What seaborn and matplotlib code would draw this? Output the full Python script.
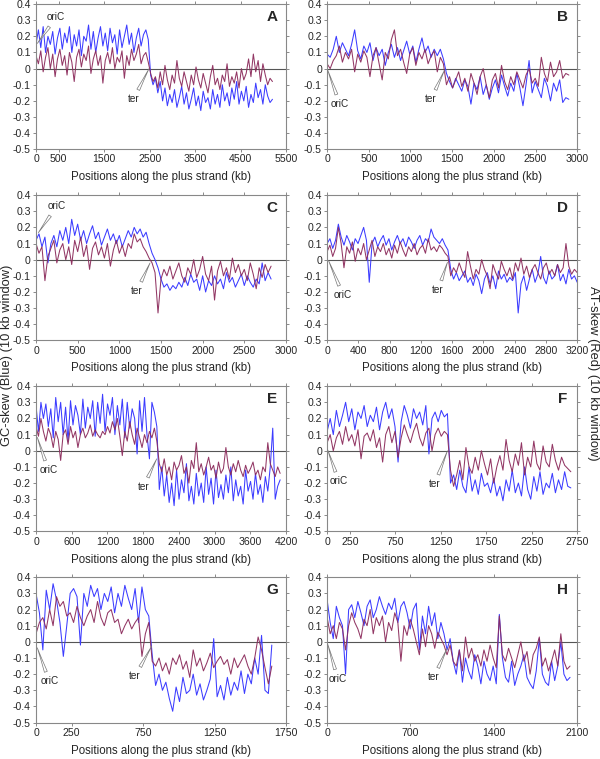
import matplotlib
matplotlib.use("Agg")
import matplotlib.pyplot as plt
import seaborn as sns
import numpy as np

sns.set_style("ticks")
plt.rcParams["font.family"] = ["Liberation Sans", "DejaVu Sans"]

BLUE = "#3c3cff"
RED = "#8c2c5c"

# genome lengths (kb) covered by the windows
LENGTHS = {"A": 5200, "B": 2900, "C": 2820, "D": 3200,
           "E": 4100, "F": 2680, "G": 1650, "H": 2040}
XMAX = {"A": 5500, "B": 3000, "C": 3000, "D": 3200,
        "E": 4200, "F": 2750, "G": 1750, "H": 2100}
XTICKS = {
    "A": [0, 500, 1500, 2500, 3500, 4500, 5500],
    "B": [0, 500, 1000, 1500, 2000, 2500, 3000],
    "C": [0, 500, 1000, 1500, 2000, 2500, 3000],
    "D": [0, 400, 800, 1200, 1600, 2000, 2400, 2800, 3200],
    "E": [0, 600, 1200, 1800, 2400, 3000, 3600, 4200],
    "F": [0, 250, 750, 1250, 1750, 2250, 2750],
    "G": [0, 250, 750, 1250, 1750],
    "H": [0, 700, 1400, 2100],
}
YTICKS = [-0.5, -0.4, -0.3, -0.2, -0.1, 0, 0.1, 0.2, 0.3, 0.4]
YTICKLABELS = ["-0.5", "-0.4", "-0.3", "-0.2", "-0.1", "0", "0.1", "0.2", "0.3", "0.4"]

# GC-skew (blue) and AT-skew (red), 10 kb windows
a_gc = [0.15, 0.24, 0.13, 0.26, 0.1, 0.2, 0.15, 0.23, 0.09, 0.19, 0.25, 0.12, 0.22, 0.16, 0.26,
        0.1, 0.21, 0.14, 0.24, 0.08, 0.2, 0.17, 0.27, 0.12, 0.23, 0.1, 0.19, 0.26, 0.14, 0.22,
        0.11, 0.25, 0.16, 0.21, 0.09, 0.24, 0.13, 0.2, 0.27, 0.15, 0.22, 0.1, 0.19, 0.25, 0.14,
        0.21, 0.24, 0.18,
        -0.04, -0.1, -0.06, -0.15, -0.08, -0.2, -0.12, -0.23, -0.16, -0.21, -0.13, -0.24, -0.18,
        -0.11, -0.22, -0.15, -0.25, -0.19, -0.12, -0.23, -0.17, -0.26, -0.14, -0.21, -0.18, -0.25,
        -0.13, -0.22, -0.16, -0.24, -0.1, -0.2, -0.15, -0.23, -0.12, -0.19, -0.08, -0.22, -0.14,
        -0.2, -0.11, -0.24, -0.16, -0.21, -0.09, -0.18, -0.13, -0.22, -0.1, -0.17, -0.21, -0.19]
a_at = [0.08, 0.03, 0.11, -0.02, 0.07, 0.13, 0.0, 0.09, -0.05, 0.06, 0.12, 0.02, 0.08, -0.04, 0.1,
        0.04, -0.08, 0.07, 0.12, 0.01, 0.09, 0.05, 0.14, -0.03, 0.06, 0.11, 0.02, 0.08, -0.09, 0.05,
        0.1, 0.03, 0.13, 0.0, 0.07, 0.04, 0.11, -0.06, 0.08, 0.02, 0.12, 0.05, 0.09, 0.15, 0.03,
        0.08, 0.1, 0.04,
        -0.03, -0.08, -0.05, -0.12, -0.02, -0.1, 0.02, -0.07, -0.13, -0.04, -0.09, 0.05, -0.06,
        -0.11, -0.02, -0.08, -0.14, -0.04, -0.1, 0.01, -0.07, -0.12, -0.03, -0.09, -0.15, -0.05,
        0.02, -0.1, -0.06, -0.13, -0.04, -0.08, 0.03, -0.11, -0.05, -0.09, -0.02, -0.12, 0.0,
        -0.07, -0.03, 0.06, -0.05, 0.09, -0.02, 0.05, -0.08, 0.03, -0.04, -0.1, -0.06, -0.08]
b_gc = [0.09, 0.07, 0.12, 0.2, 0.1, 0.16, 0.12, 0.08, 0.15, 0.24, 0.11, 0.06, 0.14, 0.1, 0.16,
        0.05, 0.13, 0.08, 0.12, 0.02, 0.1, 0.15, 0.07, 0.13, 0.05, 0.11, 0.17, 0.09, 0.14, 0.04,
        0.12, 0.19, 0.1, 0.14, 0.07, 0.12, 0.08, 0.12, 0.06,
        -0.03, -0.08, -0.12, -0.06, -0.1, -0.14, -0.07, -0.11, -0.22, -0.09, -0.13, -0.05, -0.16,
        -0.1, -0.19, -0.12, -0.07, -0.15, -0.04, -0.11, -0.17, -0.09, -0.14, -0.03, -0.12, -0.23,
        -0.1, 0.05, -0.15, -0.08, -0.13, -0.18, -0.06, -0.11, -0.2, -0.09, -0.14, -0.07, -0.21,
        -0.18, -0.19]
b_at = [0.03, 0.0, 0.05, 0.08, 0.14, 0.04, 0.1, 0.06, 0.12, -0.02, 0.09, 0.04, 0.11, 0.07, -0.05,
        0.08, 0.13, 0.03, -0.07, 0.1, 0.06, 0.18, 0.24, 0.08, 0.12, 0.04, -0.03, 0.09, 0.13, 0.02,
        0.1, 0.06, 0.12, 0.03, 0.08, 0.11, -0.02, 0.07, 0.03,
        -0.1, -0.05, -0.12, -0.07, -0.02, -0.11, -0.06, -0.14, -0.03, -0.09, -0.16, -0.05, 0.0,
        -0.1, -0.18, -0.07, -0.03, -0.12, 0.02, -0.08, -0.13, -0.05, -0.1, -0.02, -0.07, -0.12,
        -0.04, 0.0, -0.09, -0.06, -0.11, 0.07, -0.03, -0.08, 0.04, -0.05, -0.02, 0.05, -0.06,
        -0.03, -0.04]
c_gc = [0.12, 0.16, 0.08, 0.14, -0.02, 0.1, 0.15, 0.08, 0.18, 0.12, 0.2, 0.1, 0.25, 0.15, 0.22,
        0.12, 0.18, 0.1, 0.16, 0.21, 0.13, 0.17, 0.09, 0.14, 0.19, 0.12, 0.16, 0.1, 0.15, 0.08,
        0.13, 0.18, 0.14, 0.2, 0.16, 0.19, 0.14, 0.17, 0.1, 0.04,
        0.0, -0.05, -0.12, -0.17, -0.15, -0.19, -0.16, -0.18, -0.14, -0.17, -0.11, -0.16, -0.09,
        -0.14, -0.12, -0.19, -0.1, -0.2, -0.13, -0.16, -0.1, -0.15, -0.12, -0.18, -0.08, -0.14,
        -0.11, -0.17, -0.13, -0.09, -0.16, -0.1, -0.14, -0.17, -0.12, -0.15, -0.02, -0.13, -0.08,
        -0.12]
c_at = [0.1, 0.04, 0.08, -0.13, 0.02, 0.07, 0.12, -0.02, 0.06, 0.1, 0.0, 0.08, -0.03, 0.12, 0.05,
        0.14, 0.02, 0.09, -0.06, 0.07, 0.11, 0.03, 0.08, 0.01, 0.1, -0.04, 0.06, 0.12, 0.04, 0.09,
        0.02, 0.1, 0.07, 0.16, 0.11, 0.13, 0.08, 0.05, 0.01, -0.02,
        -0.08, -0.33, -0.12, -0.06, -0.1, -0.04, -0.12, -0.07, -0.02, -0.1, -0.14, -0.05, -0.09,
        0.0, -0.11, -0.06, 0.02, -0.09, -0.13, -0.04, -0.25, -0.07, -0.01, -0.1, -0.05, -0.12,
        0.01, -0.08, -0.03, -0.1, -0.06, -0.13, -0.02, -0.09, -0.18, -0.05, -0.11, -0.03, -0.08,
        -0.04]
d_gc = [0.1, 0.13, 0.07, 0.12, 0.22, 0.14, 0.09, 0.15, 0.11, 0.06, 0.13, 0.1, 0.15, 0.2, 0.12,
        -0.14, 0.1, 0.14, 0.08, 0.12, 0.15, 0.09, 0.13, 0.06, 0.11, 0.15, 0.1, 0.13, 0.08, 0.14,
        0.11, 0.07, 0.12, 0.15, 0.09, 0.13, 0.11, 0.19, 0.14, 0.12, 0.1, 0.13, 0.09, 0.06,
        -0.06, -0.12, -0.08, -0.13, -0.1, -0.07, -0.14, -0.11, -0.16, -0.09, -0.13, -0.21, -0.12,
        -0.08, -0.15, -0.1, -0.18, -0.07, -0.12, -0.09, -0.14, -0.11, -0.13, -0.08, -0.33, -0.15,
        -0.1, -0.19, -0.12, -0.06, -0.14, -0.09, 0.02, -0.11, -0.15, -0.07, -0.12, -0.1, -0.03,
        -0.13, -0.09, -0.15, -0.06, -0.12, -0.1, -0.14]
d_at = [0.05, 0.09, 0.02, 0.07, 0.2, 0.1, -0.05, 0.08, 0.04, 0.11, -0.01, 0.07, 0.03, 0.1, 0.0,
        0.06, 0.12, 0.02, 0.08, 0.05, 0.1, 0.03, 0.07, 0.01, 0.09, 0.04, 0.11, 0.06, 0.02, 0.08,
        0.05, 0.1, 0.03, 0.07, 0.09, 0.04, 0.13, 0.06, 0.08, 0.05, 0.09, 0.07, 0.04, 0.02,
        -0.1, -0.05, -0.08, -0.02, -0.07, -0.11, 0.05, -0.04, -0.12, -0.06, -0.09, 0.0, -0.06,
        -0.1, -0.18, -0.03, -0.08, -0.12, -0.01, -0.06, -0.1, -0.05, -0.12, -0.02, -0.07, 0.01,
        -0.09, -0.04, -0.11, -0.06, -0.03, -0.08, -0.12, -0.05, -0.02, -0.09, -0.06, -0.1, -0.03,
        -0.08, -0.05, 0.1, -0.04, -0.09, -0.06, -0.08]
e_gc = [0.28, 0.12, 0.3, 0.2, 0.29, 0.15, 0.26, 0.08, 0.33, 0.18, 0.3, 0.1, 0.27, 0.06, 0.31,
        0.16, 0.28, 0.22, 0.1, 0.32, 0.14, 0.27, 0.2, 0.31, 0.09, 0.3, 0.17, 0.35, 0.12, 0.29,
        0.22, 0.33, 0.1, 0.28, 0.16, 0.32, 0.08, 0.3, 0.14, 0.26, 0.2, -0.02, 0.31, 0.12, 0.33,
        0.1, -0.05, 0.3, 0.24, 0.15,
        -0.24, -0.1, -0.28, -0.15, -0.32, -0.2, -0.34, -0.12, -0.3, -0.18, -0.26, -0.08, -0.31,
        -0.22, -0.33, -0.14, -0.28, -0.2, -0.32, -0.1, -0.27, -0.17, -0.33, -0.12, -0.29, -0.21,
        -0.3, -0.15, -0.26, -0.1, -0.31, -0.18, -0.28, -0.22, -0.33, -0.12, -0.25, -0.19, -0.3,
        -0.14, -0.27, -0.21, -0.32, -0.16, -0.25, -0.1, 0.14, -0.3, -0.22, -0.18]
e_at = [0.15, 0.09, 0.2, 0.12, 0.06, 0.14, 0.1, 0.02, 0.12, 0.07, -0.06, 0.1, 0.13, 0.04, 0.15,
        0.08, 0.12, 0.02, 0.1, 0.14, 0.08, 0.11, 0.16, 0.09, 0.13, 0.1, 0.08, 0.12, 0.1, 0.15,
        0.11, 0.18, 0.13, 0.2, 0.09, -0.03, 0.12, 0.06, 0.18, 0.1, 0.04, 0.14, 0.08, 0.02, 0.1,
        0.05, 0.12, 0.08, 0.14, 0.06,
        -0.08, -0.13, -0.05, -0.15, -0.1, -0.18, -0.07, -0.12, -0.09, -0.03, -0.14, -0.1, -0.2,
        -0.06, -0.11, 0.05, -0.13, -0.08, -0.15, -0.1, -0.04, -0.12, -0.09, -0.17, -0.07, -0.14,
        -0.11, 0.02, -0.1, -0.15, -0.08, -0.13, -0.06, -0.12, -0.16, -0.09, -0.14, -0.11, -0.07,
        -0.15, -0.12, -0.18, -0.1, -0.13, 0.05, -0.08, -0.12, -0.16, -0.1, -0.14]
f_gc = [0.12, 0.2, 0.1, 0.25, 0.15, 0.22, 0.3, 0.18, 0.26, 0.13, 0.24, 0.2, 0.28, 0.15, 0.22,
        0.18, 0.27, 0.13, 0.24, 0.3, 0.2, 0.26, 0.15, -0.07, 0.18, 0.28, 0.22, 0.14, 0.26, 0.2,
        0.24, 0.16, 0.28, -0.02, 0.2, 0.24, 0.18, 0.25, 0.21, 0.23,
        -0.2, -0.15, -0.24, -0.12, -0.22, -0.26, -0.1, -0.25, -0.18, -0.27, -0.14, -0.22, -0.2,
        -0.26, -0.17, -0.28, -0.22, -0.31, -0.18, -0.25, -0.12, -0.26, -0.2, -0.28, -0.1, -0.24,
        -0.3, -0.16, -0.25, -0.13, -0.27, -0.2, -0.23, -0.14, -0.26, -0.18, -0.24, -0.13, -0.22,
        -0.23]
f_at = [0.05, 0.1, 0.0, 0.08, 0.12, 0.04, 0.15, 0.06, 0.1, 0.03, 0.13, -0.05, 0.09, 0.11, 0.06,
        0.13, 0.02, 0.08, -0.07, 0.1, 0.15, 0.05, 0.12, -0.04, 0.08, 0.16, 0.1, 0.05, 0.12, 0.17,
        0.08, 0.03, 0.11, 0.14, 0.0, 0.1, 0.14, 0.09, 0.12, 0.1,
        -0.12, -0.22, -0.15, -0.06, -0.18, 0.02, -0.1, -0.14, -0.04, -0.12, 0.0, -0.08, -0.15,
        -0.05, -0.2, -0.1, -0.03, -0.12, 0.07, -0.06, -0.13, -0.02, -0.09, 0.05, -0.15, -0.04,
        -0.1, 0.06, -0.08, -0.12, 0.03, -0.07, -0.1, 0.04, -0.06, -0.12, -0.04, -0.09, -0.11,
        -0.13]
g_gc = [0.3, 0.18, -0.05, 0.32, 0.2, 0.36, 0.26, 0.12, -0.09, 0.1, 0.3, 0.33, 0.28, -0.02, 0.3,
        0.22, 0.35, 0.28, 0.33, 0.2, 0.3, 0.25, 0.34, 0.18, 0.3, 0.22, 0.35, 0.27, 0.2, 0.33,
        0.12, 0.34, 0.2, 0.16,
        -0.08, -0.27, -0.2, -0.3, -0.25, -0.35, -0.43, -0.28, -0.37, -0.22, -0.32, -0.3, -0.2,
        -0.33, -0.26, -0.36, -0.3, -0.23, 0.02, -0.34, -0.27, -0.36, -0.22, -0.33, -0.25, -0.3,
        -0.18, -0.32, -0.2, -0.26, -0.1, -0.2, 0.04, -0.3, -0.32, -0.02]
g_at = [0.05, 0.12, 0.15, 0.08, 0.2, 0.1, 0.28, 0.22, 0.25, 0.16, 0.18, 0.12, 0.22, 0.15, 0.1,
        0.16, 0.2, 0.12, 0.25, 0.15, 0.1, 0.18, 0.2, 0.12, 0.14, 0.05, 0.1, 0.14, 0.08, 0.12,
        0.15, -0.09, 0.05, 0.12,
        -0.12, -0.15, -0.1, -0.18, -0.13, -0.2, -0.1, -0.14, -0.08, -0.17, -0.12, -0.22, -0.05,
        -0.15, -0.1, -0.18, -0.13, -0.07, -0.16, -0.12, -0.09, -0.14, -0.11, -0.2, -0.1, -0.16,
        -0.12, -0.08, -0.15, -0.2, -0.1, 0.03, -0.05, -0.16, -0.26, -0.15]
h_gc = [0.26, 0.12, 0.02, 0.22, 0.15, 0.1, -0.2, 0.2, 0.23, 0.15, 0.25, 0.18, 0.1, 0.22, 0.26,
        0.15, 0.2, 0.28, 0.22, 0.17, 0.24, 0.2, 0.27, 0.12, 0.22, 0.25, 0.18, 0.08, 0.2, 0.24,
        -0.05, 0.16, 0.05, 0.22, 0.1, 0.18, 0.02, 0.12, 0.05,
        -0.05, 0.02, -0.12, -0.2, -0.05, -0.25, -0.1, -0.18, -0.23, -0.08, -0.15, -0.26, -0.12,
        -0.2, -0.24, -0.15, -0.26, 0.17, -0.1, -0.22, -0.25, -0.12, -0.27, -0.2, -0.15, -0.08,
        -0.22, -0.26, -0.29, -0.18, 0.02, -0.2, -0.25, -0.27, -0.12, -0.24, -0.15, 0.0, -0.2,
        -0.24, -0.22]
h_at = [0.15, 0.05, 0.1, 0.02, 0.12, 0.08, -0.05, 0.1, 0.18, 0.12, 0.08, 0.02, 0.14, 0.1, 0.2,
        0.05, 0.15, 0.1, 0.16, 0.0, 0.12, 0.07, 0.18, 0.12, -0.12, 0.1, 0.04, 0.14, 0.08, 0.0,
        -0.08, 0.08, -0.03, 0.1, 0.05, -0.04, 0.06, 0.02, -0.02,
        -0.08, -0.02, -0.12, -0.15, -0.05, -0.18, 0.03, -0.1, -0.04, -0.12, -0.08, -0.15, -0.05,
        -0.12, -0.02, -0.1, -0.16, 0.16, -0.08, -0.12, -0.04, -0.1, -0.16, -0.08, 0.0, -0.12,
        -0.06, -0.2, -0.08, -0.04, 0.03, -0.15, -0.1, -0.18, -0.12, -0.05, -0.15, 0.05, -0.12,
        -0.17, -0.15]

GC = {"A": a_gc, "B": b_gc, "C": c_gc, "D": d_gc, "E": e_gc, "F": f_gc, "G": g_gc, "H": h_gc}
AT = {"A": a_at, "B": b_at, "C": c_at, "D": d_at, "E": e_at, "F": f_at, "G": g_at, "H": h_at}

# annotation placement: (label xy, pointer end) in data coords
ORI = {"A": ((440, 0.317), (29, 0.156)), "B": ((152, -0.22), (8, -0.01)),
       "C": ((248, 0.33), (28, 0.167)), "D": ((205, -0.22), (17, -0.004)),
       "E": ((207, -0.12), (22, 0.083)), "F": ((129, -0.19), (7, 0.005)),
       "G": ((93, -0.245), (9, -0.037)), "H": ((90, -0.23), (6, -0.016))}
TER = {"A": ((2141, -0.19), (2486, 0.0)), "B": ((1248, -0.19), (1408, -0.01)),
       "C": ((1208, -0.195), (1368, -0.02)), "D": ((1420, -0.188), (1540, -0.016)),
       "E": ((1803, -0.224), (2027, -0.05)), "F": ((1184, -0.207), (1323, 0.0)),
       "G": ((693, -0.213), (810, -0.026)), "H": ((896, -0.22), (1008, -0.04))}

fig, axes = plt.subplots(4, 2, figsize=(6.0, 7.59), dpi=100)
fig.subplots_adjust(left=0.06, right=0.962, top=0.9947, bottom=0.048,
                    wspace=0.164, hspace=0.315)

for ax, key in zip(axes.flat, "ABCDEFGH"):
    gc, at = GC[key], AT[key]
    x = np.linspace(0, LENGTHS[key], len(gc))
    sns.lineplot(x=x, y=gc, ax=ax, color=BLUE, lw=0.75, estimator=None, sort=False)
    sns.lineplot(x=x, y=at, ax=ax, color=RED, lw=0.75, estimator=None, sort=False, alpha=0.95)
    ax.axhline(0, color="#555555", lw=0.8, zorder=1)

    ax.set_xlim(0, XMAX[key])
    ax.set_ylim(-0.5, 0.4)
    ax.set_xticks(XTICKS[key])
    ax.set_yticks(YTICKS)
    ax.set_yticklabels(YTICKLABELS)
    ax.tick_params(axis="both", labelsize=7.6, length=2.5, width=0.6, color="#777777",
                   pad=1.2, right=True, top=True, direction="out")
    for sp in ax.spines.values():
        sp.set_visible(True)
        sp.set_color("#888888")
        sp.set_linewidth(0.8)
    ax.set_xlabel("Positions along the plus strand (kb)", fontsize=8.3, labelpad=5)
    ax.set_ylabel("")

    ax.text(0.943, 0.91, key, transform=ax.transAxes, ha="center", va="center",
            fontsize=11, fontweight="bold")

    for label, (txt, tip) in (("oriC", ORI[key]), ("ter", TER[key])):
        ax.annotate(label, xy=tip, xytext=txt, fontsize=7.2, ha="center", va="center",
                    arrowprops=dict(arrowstyle="wedge,tail_width=0.3,shrink_factor=0.4",
                                    fc="white", ec="#777777", lw=0.5,
                                    shrinkA=1, shrinkB=0))

fig.text(0.011, 1 - 355 / 759, "GC-skew (Blue) (10 kb window)", rotation=90,
         ha="center", va="center", fontsize=9.3)
fig.text(0.988, 1 - 373 / 759, "AT-skew (Red) (10 kb window)", rotation=270,
         ha="center", va="center", fontsize=9.3)

fig.savefig("out.png", dpi=100)
